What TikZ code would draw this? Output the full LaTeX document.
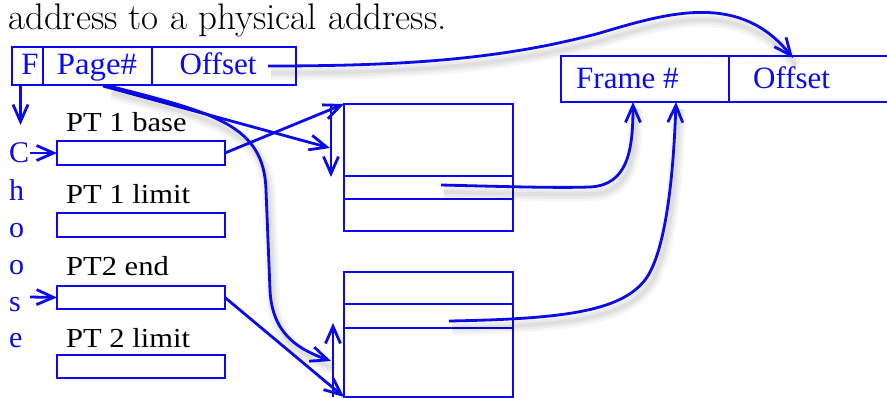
\documentclass[tikz,border=0pt]{standalone}
\usepackage{fontspec}
\newfontfamily\tnr{Liberation Serif}
\usetikzlibrary{arrows.meta}
\definecolor{pblue}{RGB}{10,10,235}
\newcommand{\sx}[1]{\scalebox{1.11}[1]{#1}}
\begin{document}
\begin{tikzpicture}[x=1pt,y=-1pt,
  box/.style={draw=pblue, line width=2.8pt, inner sep=0pt, outer sep=0pt, anchor=north west},
  btxt/.style={text=pblue, font=\tnr\fontsize{31}{31}\selectfont, inner sep=0pt, anchor=base},
  ktxt/.style={text=black, font=\tnr\fontsize{27.5}{27.5}\selectfont, inner sep=0pt, anchor=base west},
  ltxt/.style={text=pblue, font=\tnr\fontsize{30}{30}\selectfont, inner sep=0pt, anchor=base west},
  sep/.style={draw=pblue, line width=2.8pt},
  shad/.style={
    preaction={draw=black, opacity=0.035, line width=14pt, arrows=-, transform canvas={shift={(3pt,-7pt)}}},
    preaction={draw=black, opacity=0.045, line width=9pt, arrows=-, transform canvas={shift={(3pt,-7pt)}}},
    preaction={draw=black, opacity=0.05, line width=4pt, arrows=-, transform canvas={shift={(3pt,-7pt)}}}},
  arr/.style={draw=pblue, line width=2.8pt, -{Straight Barb[length=17pt,width=15pt,line width=2.8pt]}},
]
\clip (0,0) rectangle (887,398);
\useasboundingbox (0,0) rectangle (887,398);

\node[anchor=base west, inner sep=0pt, font=\fontsize{37}{37}\selectfont] (hdr) at (8,30) {address to a physical address.};

% virtual address
\node[box, minimum width=31pt, minimum height=38pt] (fb) at (12,47) {};
\node[box, minimum width=109pt, minimum height=38pt] (pb) at (43,47) {};
\node[box, minimum width=144pt, minimum height=38pt] (ob) at (152,47) {};
\node[btxt] (ft) at (30,75) {F};
\node[btxt] (pt) at (97,75) {\scalebox{1.06}[1]{Page\#}};
\node[btxt] (ot) at (218,75) {Offset};

% physical address
\node[box, minimum width=168pt, minimum height=46pt] (frb) at (561,56) {};
\node[box, minimum width=170pt, minimum height=46pt] (fob) at (729,56) {};
\node[btxt, anchor=base west] (frt) at (576,89) {Frame \#};
\node[btxt, anchor=base west] (fot) at (753,89) {Offset};

% Choose letters
\node[ltxt] (c1) at (9,163) {C};
\node[ltxt] (c2) at (9,201) {h};
\node[ltxt] (c3) at (9,238) {o};
\node[ltxt] (c4) at (9,275) {o};
\node[ltxt] (c5) at (9,312) {s};
\node[ltxt] (c6) at (9,348) {e};

% registers
\node[ktxt] (l1) at (66,132) {\sx{PT 1 base}};
\node[ktxt] (l2) at (66,204) {\sx{PT 1 limit}};
\node[ktxt] (l3) at (66,276) {\sx{PT2 end}};
\node[ktxt] (l4) at (66,348) {\sx{PT 2 limit}};
\node[box, minimum width=168pt, minimum height=24pt] (r1) at (57,141) {};
\node[box, minimum width=168pt, minimum height=24pt] (r2) at (57,213) {};
\node[box, minimum width=168pt, minimum height=23pt] (r3) at (57,286) {};
\node[box, minimum width=168pt, minimum height=23pt] (r4) at (57,355) {};

% page tables
\node[box, minimum width=169pt, minimum height=127pt] (t1) at (344,104) {};
\draw[sep] (344,176) -- (513,176);
\draw[sep] (344,199) -- (513,199);
\node[box, minimum width=169pt, minimum height=125pt] (t2) at (344,272) {};
\draw[sep] (344,304) -- (513,304);
\draw[sep] (344,328) -- (513,328);

\coordinate (e1) at (441,185);
\coordinate (e2) at (449,321);

% arrows
\coordinate (fa) at (20.5,86);
\coordinate (fz) at (20.5,125);
\draw[arr] (fa) -- (fz);
\coordinate (ca) at (30,153);
\draw[arr] (ca) -- (r1.west);
\coordinate (sa) at (30,297);
\draw[arr] (sa) -- (r3.west);

\coordinate (p1) at (103,86);
\coordinate (p2) at (109,86);
\coordinate (t1a) at (330,148);
\draw[arr] (p1) -- (t1a);
\coordinate (t2a) at (331,361);
\draw[arr, shad] (p2) .. controls (215,113) and (264,125) .. (266,190) -- (270,290) .. controls (272,335) and (300,350) .. (t2a);

\draw[arr] (r1.east) -- (t1.north west);
\coordinate (v1a) at (331,105);
\coordinate (v1b) at (331,177);
\draw[arr] (v1a) -- (v1b);

\draw[arr] (r3.east) -- (t2.south west);
\coordinate (v2a) at (333,397);
\coordinate (v2b) at (333,323);
\draw[arr] (v2a) -- (v2b);

\coordinate (fr1) at (633,102);
\coordinate (fr2) at (676,102);
\draw[arr, shad] (e1) .. controls (520,187) and (560,188) .. (590,187) .. controls (628,185) and (633,150) .. (fr1);
\draw[arr, shad] (e2) .. controls (560,319) and (620,312) .. (645,280) .. controls (668,250) and (674,160) .. (fr2);

\coordinate (o1) at (268,66);
\coordinate (o2) at (793,58);
\draw[arr, shad] (o1) .. controls (400,66) and (500,60) .. (600,33) .. controls (670,12) and (740,-8) .. (o2);
\end{tikzpicture}
\end{document}
